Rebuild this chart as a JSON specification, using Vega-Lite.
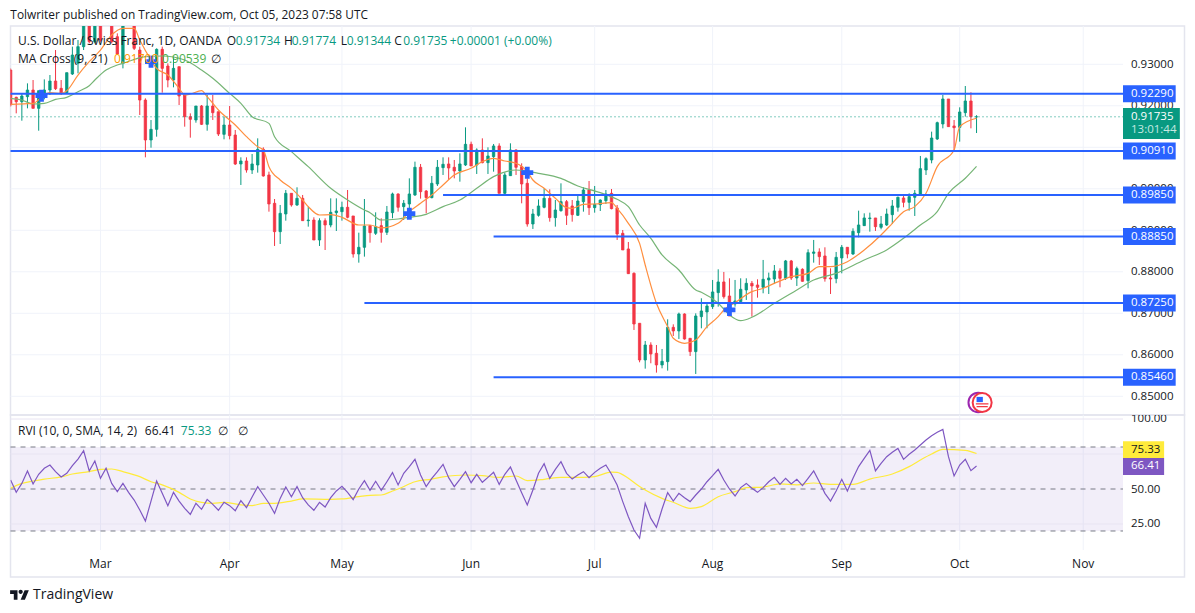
{
"$schema":"https://vega.github.io/schema/vega-lite/v6.json",
"description":"USD/CHF daily candles with MA cross and RVI, TradingView snapshot",
"background":"#ffffff",
"padding":{"left":8.5,"top":0,"right":0,"bottom":0},
"spacing":0,
"bounds":"flush",
"config":{"view":{"stroke":"#e4e5ee","strokeWidth":1.5},"text":{"font":"Open Sans","fontSize":12,"align":"left","baseline":"middle","color":"#131722"}},
"datasets":{
"candles":[
{"i":0,"o":0.92862,"h":0.92902,"l":0.91979,"c":0.92019},
{"i":1,"o":0.92204,"h":0.9222,"l":0.91818,"c":0.92099},
{"i":2,"o":0.92099,"h":0.923,"l":0.91641,"c":0.92236},
{"i":3,"o":0.9222,"h":0.92541,"l":0.91939,"c":0.9238},
{"i":4,"o":0.9238,"h":0.92621,"l":0.91939,"c":0.91939},
{"i":5,"o":0.91939,"h":0.92364,"l":0.914,"c":0.92364},
{"i":6,"o":0.9226,"h":0.92637,"l":0.92155,"c":0.9238},
{"i":7,"o":0.9238,"h":0.92742,"l":0.9226,"c":0.92597},
{"i":8,"o":0.92597,"h":0.93344,"l":0.9238,"c":0.92413},
{"i":9,"o":0.92421,"h":0.92621,"l":0.9226,"c":0.923},
{"i":10,"o":0.92316,"h":0.92798,"l":0.923,"c":0.92798},
{"i":11,"o":0.92766,"h":0.93425,"l":0.92742,"c":0.93224},
{"i":12,"o":0.93023,"h":0.93585,"l":0.92782,"c":0.93425},
{"i":13,"o":0.93425,"h":0.94067,"l":0.93344,"c":0.93987},
{"i":14,"o":0.93987,"h":0.94067,"l":0.93505,"c":0.93545},
{"i":15,"o":0.93545,"h":0.94067,"l":0.93505,"c":0.93947},
{"i":16,"o":0.93987,"h":0.94067,"l":0.93545,"c":0.93585},
{"i":17,"o":0.943,"h":0.944,"l":0.9399,"c":0.9405},
{"i":18,"o":0.93987,"h":0.94067,"l":0.93505,"c":0.93545},
{"i":19,"o":0.93665,"h":0.93746,"l":0.93224,"c":0.93248},
{"i":20,"o":0.93023,"h":0.94107,"l":0.92902,"c":0.94027},
{"i":21,"o":0.9435,"h":0.944,"l":0.9399,"c":0.9405},
{"i":22,"o":0.93987,"h":0.94067,"l":0.93344,"c":0.93384},
{"i":23,"o":0.93344,"h":0.93425,"l":0.91778,"c":0.92139},
{"i":24,"o":0.92139,"h":0.9218,"l":0.90758,"c":0.91176},
{"i":25,"o":0.91176,"h":0.91657,"l":0.90991,"c":0.91433},
{"i":26,"o":0.91433,"h":0.93384,"l":0.91256,"c":0.9336},
{"i":27,"o":0.9336,"h":0.93425,"l":0.92316,"c":0.92902},
{"i":28,"o":0.92959,"h":0.93023,"l":0.92445,"c":0.92621},
{"i":29,"o":0.92621,"h":0.93184,"l":0.92445,"c":0.92902},
{"i":30,"o":0.92943,"h":0.92943,"l":0.92019,"c":0.92236},
{"i":31,"o":0.9226,"h":0.9226,"l":0.91497,"c":0.91738},
{"i":32,"o":0.91738,"h":0.91818,"l":0.91232,"c":0.91674},
{"i":33,"o":0.91658,"h":0.91995,"l":0.91593,"c":0.91995},
{"i":34,"o":0.91995,"h":0.92019,"l":0.91537,"c":0.91553},
{"i":35,"o":0.91553,"h":0.9226,"l":0.914,"c":0.91995},
{"i":36,"o":0.91995,"h":0.9226,"l":0.91658,"c":0.91834},
{"i":37,"o":0.91858,"h":0.91858,"l":0.91272,"c":0.9132},
{"i":38,"o":0.91312,"h":0.91738,"l":0.91192,"c":0.91537},
{"i":39,"o":0.91537,"h":0.91995,"l":0.91192,"c":0.9128},
{"i":40,"o":0.91296,"h":0.91417,"l":0.90573,"c":0.90597},
{"i":41,"o":0.90598,"h":0.90758,"l":0.90092,"c":0.9067},
{"i":42,"o":0.9067,"h":0.90758,"l":0.90389,"c":0.90453},
{"i":43,"o":0.90453,"h":0.90839,"l":0.90357,"c":0.90598},
{"i":44,"o":0.90574,"h":0.91216,"l":0.90389,"c":0.90951},
{"i":45,"o":0.90951,"h":0.90999,"l":0.90293,"c":0.90309},
{"i":46,"o":0.90333,"h":0.90413,"l":0.89449,"c":0.89634},
{"i":47,"o":0.8965,"h":0.89754,"l":0.88622,"c":0.88967},
{"i":48,"o":0.88967,"h":0.8961,"l":0.8867,"c":0.89409},
{"i":49,"o":0.89393,"h":0.89971,"l":0.89232,"c":0.89891},
{"i":50,"o":0.89891,"h":0.89891,"l":0.8957,"c":0.8961},
{"i":51,"o":0.8961,"h":0.90036,"l":0.89586,"c":0.8977},
{"i":52,"o":0.8977,"h":0.89851,"l":0.89232,"c":0.89232},
{"i":53,"o":0.89232,"h":0.8957,"l":0.89088,"c":0.89248},
{"i":54,"o":0.89248,"h":0.89313,"l":0.88766,"c":0.88766},
{"i":55,"o":0.88766,"h":0.89289,"l":0.88622,"c":0.89232},
{"i":56,"o":0.89232,"h":0.89289,"l":0.88525,"c":0.89128},
{"i":57,"o":0.89128,"h":0.8977,"l":0.89072,"c":0.89433},
{"i":58,"o":0.89425,"h":0.8977,"l":0.88983,"c":0.89465},
{"i":59,"o":0.89449,"h":0.8969,"l":0.89232,"c":0.89554},
{"i":60,"o":0.89554,"h":0.89971,"l":0.89289,"c":0.89313},
{"i":61,"o":0.89345,"h":0.89345,"l":0.88341,"c":0.88429},
{"i":62,"o":0.88429,"h":0.88943,"l":0.8822,"c":0.8859},
{"i":63,"o":0.8859,"h":0.89754,"l":0.88365,"c":0.89104},
{"i":64,"o":0.89112,"h":0.89128,"l":0.88702,"c":0.88943},
{"i":65,"o":0.88927,"h":0.89433,"l":0.88887,"c":0.89088},
{"i":66,"o":0.89112,"h":0.89289,"l":0.88702,"c":0.88951},
{"i":67,"o":0.88951,"h":0.89586,"l":0.88887,"c":0.89441},
{"i":68,"o":0.89425,"h":0.89907,"l":0.89289,"c":0.89875},
{"i":69,"o":0.89875,"h":0.89891,"l":0.89449,"c":0.89554},
{"i":70,"o":0.8957,"h":0.8973,"l":0.89248,"c":0.8965},
{"i":71,"o":0.89634,"h":0.90252,"l":0.89409,"c":0.89875},
{"i":72,"o":0.89851,"h":0.90654,"l":0.89827,"c":0.90518},
{"i":73,"o":0.90518,"h":0.90598,"l":0.89763,"c":0.89931},
{"i":74,"o":0.89947,"h":0.89971,"l":0.89409,"c":0.89787},
{"i":75,"o":0.89787,"h":0.90309,"l":0.89771,"c":0.90132},
{"i":76,"o":0.90116,"h":0.90694,"l":0.90068,"c":0.90518},
{"i":77,"o":0.9051,"h":0.90758,"l":0.90333,"c":0.9059},
{"i":78,"o":0.90598,"h":0.90758,"l":0.90212,"c":0.90501},
{"i":79,"o":0.90518,"h":0.90694,"l":0.90252,"c":0.90429},
{"i":80,"o":0.90429,"h":0.90855,"l":0.90172,"c":0.90598},
{"i":81,"o":0.90574,"h":0.91481,"l":0.9055,"c":0.91072},
{"i":82,"o":0.91072,"h":0.91136,"l":0.9055,"c":0.9055},
{"i":83,"o":0.90574,"h":0.90975,"l":0.90357,"c":0.90935},
{"i":84,"o":0.90935,"h":0.91216,"l":0.90614,"c":0.9063},
{"i":85,"o":0.9063,"h":0.90999,"l":0.90357,"c":0.90791},
{"i":86,"o":0.90775,"h":0.9108,"l":0.90413,"c":0.91032},
{"i":87,"o":0.91032,"h":0.91096,"l":0.89891,"c":0.89891},
{"i":88,"o":0.89891,"h":0.90397,"l":0.89851,"c":0.90333},
{"i":89,"o":0.90317,"h":0.91096,"l":0.90309,"c":0.90935},
{"i":90,"o":0.90935,"h":0.90951,"l":0.90333,"c":0.90518},
{"i":91,"o":0.90534,"h":0.90614,"l":0.8965,"c":0.90116},
{"i":92,"o":0.90132,"h":0.90252,"l":0.89088,"c":0.89152},
{"i":93,"o":0.89152,"h":0.89514,"l":0.89032,"c":0.89393},
{"i":94,"o":0.89361,"h":0.89746,"l":0.89329,"c":0.89586},
{"i":95,"o":0.89554,"h":0.90011,"l":0.8953,"c":0.89771},
{"i":96,"o":0.89771,"h":0.89987,"l":0.89208,"c":0.89305},
{"i":97,"o":0.89305,"h":0.8973,"l":0.89088,"c":0.89489},
{"i":98,"o":0.89473,"h":0.90132,"l":0.89449,"c":0.8969},
{"i":99,"o":0.8969,"h":0.8973,"l":0.89128,"c":0.89361},
{"i":100,"o":0.89586,"h":0.8973,"l":0.89208,"c":0.89377},
{"i":101,"o":0.89361,"h":0.89851,"l":0.89345,"c":0.89706},
{"i":102,"o":0.8969,"h":0.90036,"l":0.89449,"c":0.89971},
{"i":103,"o":0.89971,"h":0.90188,"l":0.89369,"c":0.89546},
{"i":104,"o":0.89546,"h":0.90068,"l":0.89425,"c":0.89626},
{"i":105,"o":0.89618,"h":0.89746,"l":0.89465,"c":0.8973},
{"i":106,"o":0.89714,"h":0.89971,"l":0.89634,"c":0.89875},
{"i":107,"o":0.89891,"h":0.89995,"l":0.89505,"c":0.89522},
{"i":108,"o":0.89538,"h":0.8961,"l":0.88767,"c":0.88911},
{"i":109,"o":0.88927,"h":0.89007,"l":0.88526,"c":0.88526},
{"i":110,"o":0.8855,"h":0.88718,"l":0.87947,"c":0.87955},
{"i":111,"o":0.87963,"h":0.87987,"l":0.86598,"c":0.86742},
{"i":112,"o":0.86759,"h":0.86759,"l":0.85819,"c":0.85875},
{"i":113,"o":0.85875,"h":0.86333,"l":0.85666,"c":0.86236},
{"i":114,"o":0.86236,"h":0.86301,"l":0.85795,"c":0.8602},
{"i":115,"o":0.86036,"h":0.86236,"l":0.8557,"c":0.85755},
{"i":116,"o":0.85755,"h":0.8614,"l":0.85674,"c":0.85843},
{"i":117,"o":0.85835,"h":0.86855,"l":0.85618,"c":0.86662},
{"i":118,"o":0.86662,"h":0.86734,"l":0.86453,"c":0.86574},
{"i":119,"o":0.86574,"h":0.87016,"l":0.86381,"c":0.86983},
{"i":120,"o":0.86983,"h":0.86999,"l":0.86365,"c":0.86381},
{"i":121,"o":0.86397,"h":0.86397,"l":0.85971,"c":0.86076},
{"i":122,"o":0.86076,"h":0.86999,"l":0.85538,"c":0.86935},
{"i":123,"o":0.86919,"h":0.87361,"l":0.86638,"c":0.87056},
{"i":124,"o":0.87032,"h":0.87257,"l":0.86638,"c":0.87176},
{"i":125,"o":0.8716,"h":0.87803,"l":0.87104,"c":0.87514},
{"i":126,"o":0.87498,"h":0.8806,"l":0.8716,"c":0.87755},
{"i":127,"o":0.87755,"h":0.87996,"l":0.87353,"c":0.87401},
{"i":128,"o":0.87417,"h":0.87843,"l":0.86935,"c":0.86935},
{"i":129,"o":0.87224,"h":0.87803,"l":0.8716,"c":0.87297},
{"i":130,"o":0.87281,"h":0.87843,"l":0.87224,"c":0.87578},
{"i":131,"o":0.87562,"h":0.87843,"l":0.87321,"c":0.87722},
{"i":132,"o":0.87722,"h":0.87779,"l":0.86919,"c":0.87658},
{"i":133,"o":0.87682,"h":0.87819,"l":0.87377,"c":0.87626},
{"i":134,"o":0.87626,"h":0.88285,"l":0.87482,"c":0.87819},
{"i":135,"o":0.87803,"h":0.8798,"l":0.87465,"c":0.87851},
{"i":136,"o":0.87827,"h":0.88164,"l":0.87706,"c":0.8802},
{"i":137,"o":0.8802,"h":0.88084,"l":0.87626,"c":0.87843},
{"i":138,"o":0.87843,"h":0.88285,"l":0.87803,"c":0.88261},
{"i":139,"o":0.88261,"h":0.88285,"l":0.87803,"c":0.87851},
{"i":140,"o":0.87851,"h":0.88124,"l":0.87658,"c":0.88076},
{"i":141,"o":0.8806,"h":0.88084,"l":0.87763,"c":0.87771},
{"i":142,"o":0.87787,"h":0.88542,"l":0.87602,"c":0.88461},
{"i":143,"o":0.88445,"h":0.88767,"l":0.8822,"c":0.88478},
{"i":144,"o":0.88478,"h":0.88566,"l":0.88164,"c":0.88365},
{"i":145,"o":0.88381,"h":0.8859,"l":0.87763,"c":0.87835},
{"i":146,"o":0.87851,"h":0.88084,"l":0.87465,"c":0.87827},
{"i":147,"o":0.87835,"h":0.88478,"l":0.87723,"c":0.88349},
{"i":148,"o":0.88333,"h":0.88646,"l":0.87963,"c":0.8859},
{"i":149,"o":0.8859,"h":0.8859,"l":0.88325,"c":0.88429},
{"i":150,"o":0.88429,"h":0.89048,"l":0.88405,"c":0.88975},
{"i":151,"o":0.88943,"h":0.89473,"l":0.88831,"c":0.89128},
{"i":152,"o":0.89112,"h":0.89409,"l":0.89104,"c":0.89297},
{"i":153,"o":0.89281,"h":0.89425,"l":0.88967,"c":0.89297},
{"i":154,"o":0.89297,"h":0.89297,"l":0.88984,"c":0.89088},
{"i":155,"o":0.89072,"h":0.89345,"l":0.89024,"c":0.89152},
{"i":156,"o":0.89128,"h":0.89522,"l":0.89104,"c":0.89393},
{"i":157,"o":0.89377,"h":0.8973,"l":0.89152,"c":0.89586},
{"i":158,"o":0.89554,"h":0.89811,"l":0.89449,"c":0.89795},
{"i":159,"o":0.89779,"h":0.89851,"l":0.89554,"c":0.89674},
{"i":160,"o":0.89674,"h":0.89891,"l":0.89473,"c":0.89811},
{"i":161,"o":0.89795,"h":0.89971,"l":0.89345,"c":0.89891},
{"i":162,"o":0.89867,"h":0.90791,"l":0.89859,"c":0.90486},
{"i":163,"o":0.90453,"h":0.90759,"l":0.90333,"c":0.90726},
{"i":164,"o":0.90694,"h":0.91377,"l":0.90614,"c":0.91224},
{"i":165,"o":0.912,"h":0.91618,"l":0.91176,"c":0.91594},
{"i":166,"o":0.91562,"h":0.92261,"l":0.91457,"c":0.92164},
{"i":167,"o":0.92164,"h":0.92164,"l":0.91498,"c":0.91498},
{"i":168,"o":0.91514,"h":0.91658,"l":0.90935,"c":0.91473},
{"i":169,"o":0.91481,"h":0.91963,"l":0.91136,"c":0.91851},
{"i":170,"o":0.91835,"h":0.92477,"l":0.91739,"c":0.92116},
{"i":171,"o":0.92116,"h":0.92325,"l":0.91457,"c":0.91739},
{"i":172,"o":0.91734,"h":0.91774,"l":0.91344,"c":0.91735}
],
"ma9":[
{"i":0,"v":0.92035},{"i":4,"v":0.92059},{"i":6,"v":0.9226},{"i":7,"v":0.92316},{"i":9,"v":0.923},{"i":10,"v":0.92364},{"i":12,"v":0.92742},{"i":14,"v":0.93063},{"i":16,"v":0.93344},{"i":18,"v":0.93706},{"i":20,"v":0.93866},{"i":22,"v":0.93866},{"i":23,"v":0.93585},{"i":25,"v":0.93103},{"i":26,"v":0.92902},{"i":28,"v":0.92742},{"i":30,"v":0.92421},{"i":31,"v":0.9226},{"i":32,"v":0.92284},{"i":34,"v":0.92364},{"i":35,"v":0.9222},{"i":37,"v":0.91898},{"i":40,"v":0.91537},{"i":42,"v":0.91256},{"i":44,"v":0.91015},{"i":45,"v":0.90935},{"i":46,"v":0.90533},{"i":48,"v":0.90212},{"i":50,"v":0.90011},{"i":52,"v":0.8973},{"i":53,"v":0.8957},{"i":55,"v":0.89369},{"i":57,"v":0.89377},{"i":59,"v":0.89313},{"i":62,"v":0.89128},{"i":64,"v":0.89128},{"i":66,"v":0.89056},{"i":69,"v":0.89168},{"i":71,"v":0.89449},{"i":73,"v":0.8965},{"i":75,"v":0.89851},{"i":77,"v":0.90092},{"i":79,"v":0.90333},{"i":82,"v":0.90493},{"i":84,"v":0.90654},{"i":86,"v":0.90734},{"i":88,"v":0.9067},{"i":90,"v":0.90614},{"i":92,"v":0.90413},{"i":93,"v":0.90212},{"i":95,"v":0.90011},{"i":97,"v":0.89771},{"i":99,"v":0.89546},{"i":100,"v":0.8953},{"i":102,"v":0.89626},{"i":104,"v":0.89634},{"i":107,"v":0.89666},{"i":108,"v":0.8953},{"i":110,"v":0.89168},{"i":112,"v":0.88686},{"i":113,"v":0.88164},{"i":115,"v":0.8724},{"i":117,"v":0.86678},{"i":118,"v":0.86397},{"i":120,"v":0.86277},{"i":122,"v":0.86357},{"i":124,"v":0.86678},{"i":126,"v":0.86919},{"i":127,"v":0.8708},{"i":129,"v":0.87257},{"i":132,"v":0.87522},{"i":134,"v":0.87602},{"i":136,"v":0.87722},{"i":139,"v":0.87883},{"i":142,"v":0.87963},{"i":144,"v":0.88124},{"i":146,"v":0.88124},{"i":149,"v":0.88244},{"i":152,"v":0.88526},{"i":155,"v":0.88887},{"i":157,"v":0.89168},{"i":159,"v":0.89449},{"i":161,"v":0.8957},{"i":163,"v":0.89891},{"i":165,"v":0.90534},{"i":168,"v":0.90935},{"i":169,"v":0.91498},{"i":172,"v":0.917}
],
"ma21":[
{"i":0,"v":0.9218},{"i":2,"v":0.92139},{"i":4,"v":0.92043},{"i":6,"v":0.92059},{"i":8,"v":0.92155},{"i":10,"v":0.92204},{"i":12,"v":0.9234},{"i":14,"v":0.92485},{"i":15,"v":0.92621},{"i":17,"v":0.92862},{"i":19,"v":0.92983},{"i":20,"v":0.93023},{"i":24,"v":0.93184},{"i":27,"v":0.932},{"i":31,"v":0.93103},{"i":34,"v":0.92862},{"i":36,"v":0.92662},{"i":39,"v":0.923},{"i":41,"v":0.92059},{"i":43,"v":0.91738},{"i":46,"v":0.91577},{"i":47,"v":0.91256},{"i":50,"v":0.90895},{"i":53,"v":0.90533},{"i":57,"v":0.90011},{"i":60,"v":0.8973},{"i":63,"v":0.89489},{"i":64,"v":0.89425},{"i":66,"v":0.89248},{"i":69,"v":0.89272},{"i":71,"v":0.89313},{"i":74,"v":0.89385},{"i":77,"v":0.8957},{"i":80,"v":0.8973},{"i":83,"v":0.90012},{"i":86,"v":0.90293},{"i":90,"v":0.90453},{"i":94,"v":0.90373},{"i":98,"v":0.90252},{"i":101,"v":0.90068},{"i":105,"v":0.89907},{"i":108,"v":0.89746},{"i":110,"v":0.8957},{"i":112,"v":0.89128},{"i":114,"v":0.88807},{"i":116,"v":0.88405},{"i":119,"v":0.88044},{"i":122,"v":0.87562},{"i":123,"v":0.87506},{"i":126,"v":0.87241},{"i":128,"v":0.8696},{"i":130,"v":0.86823},{"i":132,"v":0.86903},{"i":136,"v":0.87241},{"i":140,"v":0.87562},{"i":143,"v":0.87803},{"i":147,"v":0.87963},{"i":152,"v":0.88285},{"i":156,"v":0.88526},{"i":159,"v":0.88807},{"i":162,"v":0.89128},{"i":165,"v":0.89449},{"i":167,"v":0.89891},{"i":170,"v":0.90253},{"i":172,"v":0.90539}
],
"rvi":[
{"i":0,"v":56.4},{"i":1,"v":47.6},{"i":2,"v":54},{"i":3,"v":62.9},{"i":4,"v":53.6},{"i":5,"v":60.5},{"i":6,"v":64.8},{"i":7,"v":67.1},{"i":8,"v":62.4},{"i":9,"v":58.6},{"i":10,"v":61.2},{"i":11,"v":66.7},{"i":12,"v":71.4},{"i":13,"v":77.4},{"i":14,"v":62.9},{"i":15,"v":70},{"i":16,"v":57.6},{"i":17,"v":64.8},{"i":18,"v":54},{"i":19,"v":48.1},{"i":20,"v":54},{"i":21,"v":47.6},{"i":22,"v":42.1},{"i":23,"v":35},{"i":24,"v":27.1},{"i":25,"v":41.4},{"i":26,"v":55.7},{"i":27,"v":46.9},{"i":28,"v":38.1},{"i":29,"v":47.6},{"i":30,"v":41.4},{"i":31,"v":36.2},{"i":32,"v":31.9},{"i":33,"v":39.8},{"i":34,"v":35.5},{"i":35,"v":42.6},{"i":36,"v":39},{"i":37,"v":34.8},{"i":38,"v":40.5},{"i":39,"v":38.1},{"i":40,"v":34.5},{"i":41,"v":41.7},{"i":42,"v":36.7},{"i":43,"v":44.3},{"i":44,"v":51.7},{"i":45,"v":45.7},{"i":46,"v":39.8},{"i":47,"v":32.6},{"i":48,"v":43.3},{"i":49,"v":51.4},{"i":50,"v":44.5},{"i":51,"v":51.7},{"i":52,"v":43.8},{"i":53,"v":38.6},{"i":54,"v":34.8},{"i":55,"v":40.5},{"i":56,"v":37.1},{"i":57,"v":43.8},{"i":58,"v":48.6},{"i":59,"v":51.9},{"i":60,"v":47.6},{"i":61,"v":42.4},{"i":62,"v":50},{"i":63,"v":56},{"i":64,"v":49},{"i":65,"v":55.5},{"i":66,"v":49},{"i":67,"v":55.2},{"i":68,"v":61.7},{"i":69,"v":52.9},{"i":70,"v":61.2},{"i":71,"v":66},{"i":72,"v":71.2},{"i":73,"v":60},{"i":74,"v":51.7},{"i":75,"v":57.6},{"i":76,"v":62.4},{"i":77,"v":67.6},{"i":78,"v":58.1},{"i":79,"v":51.7},{"i":80,"v":56.9},{"i":81,"v":62.4},{"i":82,"v":54.5},{"i":83,"v":60.5},{"i":84,"v":54.8},{"i":85,"v":58.3},{"i":86,"v":61.9},{"i":87,"v":53.3},{"i":88,"v":60.5},{"i":89,"v":65.7},{"i":90,"v":56.4},{"i":91,"v":47.4},{"i":92,"v":38.6},{"i":93,"v":49.3},{"i":94,"v":61.2},{"i":95,"v":68.1},{"i":96,"v":57.6},{"i":97,"v":64},{"i":98,"v":69.5},{"i":99,"v":61.2},{"i":100,"v":57.1},{"i":101,"v":60},{"i":102,"v":62.4},{"i":103,"v":58.1},{"i":104,"v":61.9},{"i":105,"v":64.8},{"i":106,"v":67.1},{"i":107,"v":60.5},{"i":108,"v":52.9},{"i":109,"v":41},{"i":110,"v":30.2},{"i":111,"v":20.7},{"i":112,"v":14.8},{"i":113,"v":39.8},{"i":114,"v":29},{"i":115,"v":22.6},{"i":116,"v":35.7},{"i":117,"v":47.4},{"i":118,"v":41.4},{"i":119,"v":46.9},{"i":120,"v":43.8},{"i":121,"v":41},{"i":122,"v":45.7},{"i":123,"v":50},{"i":124,"v":55.2},{"i":125,"v":59.5},{"i":126,"v":64},{"i":127,"v":56.4},{"i":128,"v":50},{"i":129,"v":45},{"i":130,"v":51},{"i":131,"v":54},{"i":132,"v":50.5},{"i":133,"v":47.6},{"i":134,"v":51},{"i":135,"v":55.2},{"i":136,"v":58.3},{"i":137,"v":53.3},{"i":138,"v":57.6},{"i":139,"v":53.6},{"i":140,"v":56.9},{"i":141,"v":52.4},{"i":142,"v":57.6},{"i":143,"v":62.9},{"i":144,"v":55.2},{"i":145,"v":46.9},{"i":146,"v":41.4},{"i":147,"v":48.6},{"i":148,"v":56.9},{"i":149,"v":48.6},{"i":150,"v":57.6},{"i":151,"v":66},{"i":152,"v":71.9},{"i":153,"v":77.6},{"i":154,"v":62.9},{"i":155,"v":68.3},{"i":156,"v":73.1},{"i":157,"v":76.2},{"i":158,"v":79},{"i":159,"v":71.2},{"i":160,"v":74.8},{"i":161,"v":77.9},{"i":162,"v":81.4},{"i":163,"v":85},{"i":164,"v":88.1},{"i":165,"v":90.5},{"i":166,"v":92.6},{"i":167,"v":73.1},{"i":168,"v":59.3},{"i":169,"v":67.1},{"i":170,"v":71.2},{"i":171,"v":63.1},{"i":172,"v":66.41}
],
"rviMa":[
{"i":0,"v":50.5},{"i":2,"v":54},{"i":4,"v":55.7},{"i":6,"v":57.1},{"i":9,"v":58.6},{"i":11,"v":60.7},{"i":14,"v":62.4},{"i":16,"v":64},{"i":18,"v":64.3},{"i":20,"v":62.4},{"i":23,"v":58.8},{"i":25,"v":55.2},{"i":27,"v":52.9},{"i":30,"v":47.6},{"i":32,"v":42.9},{"i":34,"v":40.5},{"i":36,"v":39.8},{"i":38,"v":40.5},{"i":41,"v":38.6},{"i":43,"v":38.1},{"i":45,"v":39.8},{"i":47,"v":39.8},{"i":50,"v":41.4},{"i":52,"v":42.9},{"i":57,"v":42.6},{"i":59,"v":42.9},{"i":62,"v":44.5},{"i":64,"v":45.5},{"i":66,"v":45.7},{"i":68,"v":48.6},{"i":69,"v":50},{"i":72,"v":55.2},{"i":75,"v":57.1},{"i":77,"v":58.6},{"i":81,"v":60},{"i":84,"v":59.5},{"i":87,"v":58.3},{"i":90,"v":59.3},{"i":92,"v":56},{"i":95,"v":56.9},{"i":98,"v":58.3},{"i":102,"v":58.3},{"i":104,"v":58.8},{"i":107,"v":62.1},{"i":108,"v":61.9},{"i":110,"v":57.6},{"i":112,"v":51.7},{"i":113,"v":49.3},{"i":116,"v":43.3},{"i":118,"v":40.5},{"i":121,"v":36.2},{"i":123,"v":37.4},{"i":126,"v":44.5},{"i":129,"v":48.1},{"i":131,"v":51},{"i":134,"v":51.4},{"i":137,"v":53.6},{"i":140,"v":52.9},{"i":143,"v":54.3},{"i":146,"v":53.3},{"i":150,"v":53.3},{"i":153,"v":57.1},{"i":157,"v":60.7},{"i":160,"v":66},{"i":162,"v":70.7},{"i":164,"v":75},{"i":166,"v":78.3},{"i":170,"v":77.6},{"i":172,"v":75.33}
],
"levels":[
{"price":0.9229,"from":-0.02},{"price":0.9091,"from":-0.02},{"price":0.8985,"from":77},{"price":0.8885,"from":86},{"price":0.8725,"from":63},{"price":0.8546,"from":86}
],
"crosses":[{"i":5.5,"p":0.92243},{"i":25,"p":0.93063},{"i":71,"p":0.894},{"i":92,"p":0.90388},{"i":128,"p":0.8708}],
"months":[{"i":16,"m":"Mar"},{"i":39,"m":"Apr"},{"i":59,"m":"May"},{"i":82,"m":"Jun"},{"i":104,"m":"Jul"},{"i":125,"m":"Aug"},{"i":148,"m":"Sep"},{"i":169,"m":"Oct"},{"i":191,"m":"Nov"}],
"priceTicks":[{"p":0.93},{"p":0.92},{"p":0.91},{"p":0.9},{"p":0.89},{"p":0.88},{"p":0.87},{"p":0.86},{"p":0.85}],
"legendTop":[
{"i":1.32,"p":0.93561,"t":"U.S. Dollar / Swiss Franc, 1D, OANDA","k":"label"},
{"i":38.5,"p":0.93561,"t":"O","k":"label"},{"i":40.1,"p":0.93561,"t":"0.91734","k":"up"},
{"i":48.7,"p":0.93561,"t":"H","k":"label"},{"i":50.05,"p":0.93561,"t":"0.91774","k":"up"},
{"i":58.8,"p":0.93561,"t":"L","k":"label"},{"i":59.85,"p":0.93561,"t":"0.91344","k":"up"},
{"i":68.3,"p":0.93561,"t":"C","k":"label"},{"i":69.9,"p":0.93561,"t":"0.91735","k":"up"},
{"i":78.2,"p":0.93561,"t":"+0.00001 (+0.00%)","k":"up"},
{"i":1.32,"p":0.93128,"t":"MA Cross (9, 21)","k":"label"},
{"i":18.4,"p":0.93128,"t":"0.91700","k":"fast"},
{"i":26.96,"p":0.93128,"t":"0.90539","k":"slow"},
{"i":35.7,"p":0.93128,"t":"∅","k":"label"}
],
"legendRvi":[
{"i":1.32,"t":"RVI (10, 0, SMA, 14, 2)","k":"label"},
{"i":23.9,"t":"66.41","k":"rvi"},
{"i":30.3,"t":"75.33","k":"ma"},
{"i":36.9,"t":"∅","k":"label"},
{"i":40.5,"t":"∅","k":"label"}
]
},
"vconcat":[
{
"width":1174,"height":26,"view":{"stroke":null},
"data":{"values":[{"i":-0.05,"y":0.42,"t":"Tolwriter published on TradingView.com, Oct 05, 2023 07:58 UTC"}]},
"mark":{"type":"text","color":"#131722","fontSize":11.9},
"encoding":{
"x":{"field":"i","type":"quantitative","axis":null,"scale":{"domain":[-0.02,209.03],"nice":false,"zero":false}},
"y":{"field":"y","type":"quantitative","axis":null,"scale":{"domain":[0,1]}},
"text":{"field":"t"}
}
},
{
"width":1174,"height":389,
"encoding":{
"x":{"type":"quantitative","axis":null,"scale":{"domain":[-0.02,209.03],"nice":false,"zero":false,"padding":0}},
"y":{"type":"quantitative","scale":{"domain":[0.84549,0.93923],"nice":false,"zero":false},
 "axis":{"orient":"right","offset":-61,"title":null,"values":[0.93,0.92,0.91,0.9,0.89,0.88,0.87,0.86,0.85],"format":".5f","grid":false,"ticks":false,"domain":false,"labelPadding":7,"labelFont":"Open Sans","labelFontSize":11.5,"labelColor":"#131722"}}
},
"layer":[
{"data":{"name":"months"},"mark":{"type":"rule","color":"#f0f3fa"},
 "encoding":{"x":{"field":"i"},"y":{"datum":0.93923},"y2":{"datum":0.84549}}},
{"data":{"name":"priceTicks"},"mark":{"type":"rule","color":"#f0f3fa"},
 "encoding":{"x":{"datum":-0.02},"x2":{"datum":198.08},"y":{"field":"p"}}},
{"data":{"name":"candles"},"mark":{"type":"rule","clip":true,"strokeWidth":1},
 "encoding":{"x":{"field":"i"},"y":{"field":"h"},"y2":{"field":"l"},
  "color":{"condition":{"test":"datum.c>=datum.o","value":"#089981"},"value":"#f23645"}}},
{"data":{"name":"candles"},"mark":{"type":"bar","clip":true,"width":2.4,"strokeWidth":0.8},
 "encoding":{"x":{"field":"i"},"y":{"field":"o"},"y2":{"field":"c"},
  "fill":{"condition":{"test":"datum.c>=datum.o","value":"#089981"},"value":"#f23645"},
  "stroke":{"condition":{"test":"datum.c>=datum.o","value":"#089981"},"value":"#f23645"}}},
{"data":{"name":"ma21"},"mark":{"type":"line","clip":true,"interpolate":"monotone","color":"#76b576","strokeWidth":1.2},
 "encoding":{"x":{"field":"i"},"y":{"field":"v"}}},
{"data":{"name":"ma9"},"mark":{"type":"line","clip":true,"interpolate":"monotone","color":"#ff8f3f","strokeWidth":1.2},
 "encoding":{"x":{"field":"i"},"y":{"field":"v"}}},
{"data":{"name":"crosses"},"mark":{"type":"point","shape":"cross","filled":true,"size":144,"opacity":1,"color":"#2962ff"},
 "encoding":{"x":{"field":"i"},"y":{"field":"p"}}},
{"data":{"name":"levels"},"mark":{"type":"rule","color":"#2962ff","strokeWidth":2},
 "encoding":{"x":{"field":"from"},"x2":{"datum":198.08},"y":{"field":"price"}}},
{"data":{"values":[{"p":0.91735}]},"mark":{"type":"rule","color":"#089981","strokeDash":[1,3],"strokeWidth":1},
 "encoding":{"x":{"datum":-0.02},"x2":{"datum":198.08},"y":{"field":"p"}}},
{"data":{"name":"levels"},"mark":{"type":"rule","color":"#2962ff","strokeWidth":17},
 "encoding":{"x":{"datum":198.08},"x2":{"datum":207.46},"y":{"field":"price"}}},
{"data":{"name":"levels"},"mark":{"type":"text","color":"#ffffff","fontSize":11.5},
 "encoding":{"x":{"datum":199.5},"y":{"field":"price"},"text":{"field":"price","format":".5f"}}},
{"data":{"values":[{"p":0.91573}]},"mark":{"type":"rule","color":"#089981","strokeWidth":31},
 "encoding":{"x":{"datum":198.08},"x2":{"datum":208.2},"y":{"field":"p"}}},
{"data":{"values":[{"p":0.91735,"t":"0.91735"}]},"mark":{"type":"text","color":"#ffffff","fontSize":11.5},
 "encoding":{"x":{"datum":199.5},"y":{"field":"p"},"text":{"field":"t"}}},
{"data":{"values":[{"p":0.9141,"t":"13:01:44"}]},"mark":{"type":"text","color":"#c6e9e1","fontSize":11.5},
 "encoding":{"x":{"datum":199.5},"y":{"field":"p"},"text":{"field":"t"}}},
{"data":{"name":"legendTop"},"mark":{"type":"text"},
 "encoding":{"x":{"field":"i"},"y":{"field":"p"},"text":{"field":"t"},
  "color":{"field":"k","type":"nominal","legend":null,"scale":{"domain":["label","up","fast","slow"],"range":["#131722","#089981","#ff9800","#4caf50"]}}}},
{"data":{"values":[{"i":172.3,"p":0.84851}]},"mark":{"type":"point","size":380,"stroke":"#9c27b0","strokeWidth":2,"fill":"#ffffff","opacity":1},
 "encoding":{"x":{"field":"i"},"y":{"field":"p"}}},
{"data":{"values":[{"i":173,"p":0.84851}]},"mark":{"type":"point","size":361,"stroke":"#f23645","strokeWidth":2,"fill":"#ffffff","opacity":1},
 "encoding":{"x":{"field":"i"},"y":{"field":"p"}}},
{"data":{"values":[{"i":173,"p":0.84851}]},"mark":{"type":"point","size":196,"shape":"M-0.9,0.1H0.9V0.3H-0.9Z M-0.8,0.5H0.8V0.7H-0.8Z","filled":true,"opacity":1,"color":"#f23645"},
 "encoding":{"x":{"field":"i"},"y":{"field":"p"}}},
{"data":{"values":[{"i":173,"p":0.84851}]},"mark":{"type":"point","size":196,"shape":"M-0.8,-0.8H0.1V-0.05H-0.8Z","filled":true,"opacity":1,"color":"#2962ff"},
 "encoding":{"x":{"field":"i"},"y":{"field":"p"}}}
]
},
{
"width":1174,"height":162,
"encoding":{
"x":{"type":"quantitative","axis":null,"scale":{"domain":[-0.02,209.03],"nice":false,"zero":false}},
"y":{"type":"quantitative","scale":{"domain":[-12.86,102.86],"nice":false,"zero":false},
 "axis":{"orient":"right","offset":-61,"title":null,"values":[75,50,25],"format":".2f","grid":false,"ticks":false,"domain":false,"labelPadding":7,"labelFont":"Open Sans","labelFontSize":11.5,"labelColor":"#131722"}}
},
"layer":[
{"data":{"name":"months"},"mark":{"type":"rule","color":"#f0f3fa"},
 "encoding":{"x":{"field":"i"},"y":{"datum":102.86},"y2":{"datum":6.4}}},
{"mark":{"type":"rect","color":"#7e57c2","opacity":0.1},"data":{"values":[{"a":80,"b":20}]},
 "encoding":{"x":{"datum":-0.02},"x2":{"datum":198.08},"y":{"field":"a"},"y2":{"field":"b"}}},
{"data":{"values":[{"v":100},{"v":75},{"v":25}]},"mark":{"type":"rule","color":"#e8e4f2"},
 "encoding":{"x":{"datum":-0.02},"x2":{"datum":198.08},"y":{"field":"v"}}},
{"data":{"values":[{"v":80},{"v":50},{"v":20}]},"mark":{"type":"rule","color":"#787b86","strokeDash":[5,5]},
 "encoding":{"x":{"datum":-0.02},"x2":{"datum":198.08},"y":{"field":"v"}}},
{"data":{"name":"rviMa"},"mark":{"type":"line","clip":true,"interpolate":"monotone","color":"#ffeb3b","strokeWidth":1.2},
 "encoding":{"x":{"field":"i"},"y":{"field":"v"}}},
{"data":{"name":"rvi"},"mark":{"type":"line","clip":true,"color":"#7e57c2","strokeWidth":1.2},
 "encoding":{"x":{"field":"i"},"y":{"field":"v"}}},
{"data":{"values":[{"v":78}]},"mark":{"type":"rule","color":"#ffeb3b","strokeWidth":17},
 "encoding":{"x":{"datum":198.08},"x2":{"datum":205.4},"y":{"field":"v"}}},
{"data":{"values":[{"v":66.1}]},"mark":{"type":"rule","color":"#7e57c2","strokeWidth":17},
 "encoding":{"x":{"datum":198.08},"x2":{"datum":205.4},"y":{"field":"v"}}},
{"data":{"values":[{"v":78,"t":"75.33"}]},"mark":{"type":"text","color":"#131722","fontSize":11.5},
 "encoding":{"x":{"datum":199.5},"y":{"field":"v"},"text":{"field":"t"}}},
{"data":{"values":[{"v":66.1,"t":"66.41"}]},"mark":{"type":"text","color":"#ffffff","fontSize":11.5},
 "encoding":{"x":{"datum":199.5},"y":{"field":"v"},"text":{"field":"t"}}},
{"data":{"values":[{"v":100,"t":"100.00"}]},"mark":{"type":"text","clip":true,"color":"#131722","fontSize":11.5},
 "encoding":{"x":{"datum":199.5},"y":{"field":"v"},"text":{"field":"t"}}},
{"data":{"name":"legendRvi"},"mark":{"type":"text"},
 "encoding":{"x":{"field":"i"},"y":{"datum":91.4},"text":{"field":"t"},
  "color":{"field":"k","type":"nominal","legend":null,"scale":{"domain":["label","rvi","ma"],"range":["#131722","#7e57c2","#ffeb3b"]}}}},
{"data":{"name":"months"},"mark":{"type":"text","align":"center","fontSize":12,"color":"#131722"},
 "encoding":{"x":{"field":"i"},"y":{"datum":-3.57},"text":{"field":"m"}}}
]
},
{
"width":1174,"height":36,"view":{"stroke":null},
"encoding":{
"x":{"field":"i","type":"quantitative","axis":null,"scale":{"domain":[-0.02,209.03],"nice":false,"zero":false}},
"y":{"field":"y","type":"quantitative","axis":null,"scale":{"domain":[0,1]}}
},
"layer":[
{"data":{"values":[{"i":1.6,"y":0.5}]},"mark":{"type":"point","size":361,"filled":true,"opacity":1,"color":"#131722","shape":"M-0.222,0.5H-0.611V-0.111H-1V-0.5H-0.222Z M0.556,0.5H0.111L0.528,-0.5H0.972Z M0.333,-0.333A0.222,0.222 0 1 1 -0.111,-0.333A0.222,0.222 0 1 1 0.333,-0.333Z"}},
{"data":{"values":[{"i":3.99,"y":0.5,"t":"TradingView"}]},"mark":{"type":"text","fontSize":14,"color":"#131722"},"encoding":{"text":{"field":"t"}}}
]
}
]
}
